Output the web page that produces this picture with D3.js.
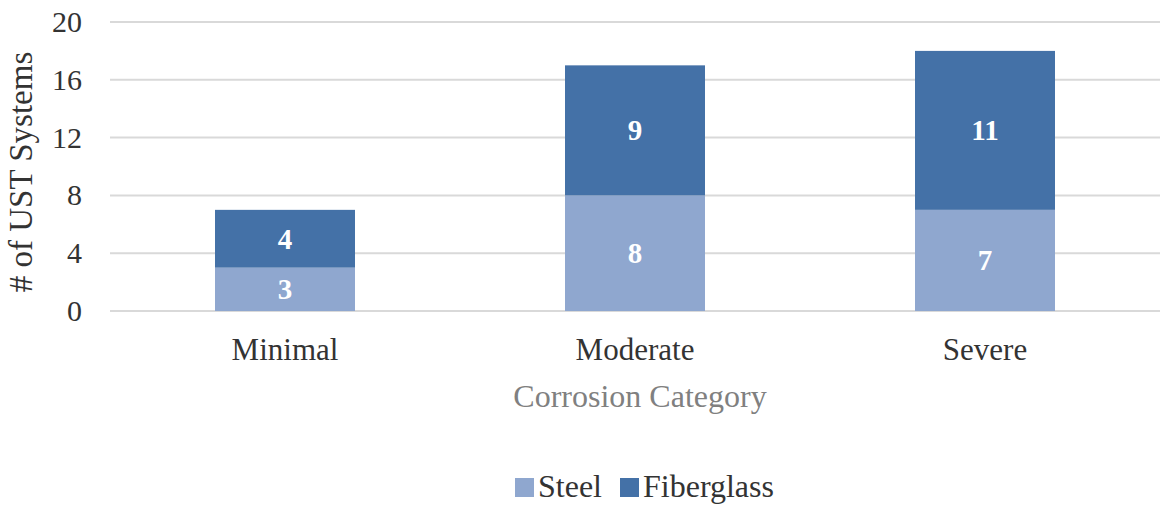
<!DOCTYPE html>
<html>
<head>
<meta charset="utf-8">
<script src="https://cdn.jsdelivr.net/npm/d3@7"></script>
<style>
  body { margin: 0; background: #fff; }
  text { font-family: "Liberation Serif", "Times New Roman", serif; }
</style>
</head>
<body>
<svg id="graph"></svg>
<script>
var categories = ["Minimal", "Moderate", "Severe"];
var seriesNames = ["Steel", "Fiberglass"];
var steel = [3, 8, 7];
var fiberglass = [4, 9, 11];
var yTicks = [0, 4, 8, 12, 16, 20];

var colors = {Steel: "#8fa7cf", Fiberglass: "#4471a7"};

var margin = {top: 22, left: 110, right: 5, bottom: 195},
	width = 1165 - margin.left - margin.right,
	height = 506 - margin.top - margin.bottom,
	graph = d3.select("#graph").attr("width", 1165).attr("height", 506),
	g = graph.append("g").attr("transform", "translate(" + margin.left + "," + margin.top + ")");

var x = d3.scaleBand().domain(categories).range([0, width]).paddingInner(0.6).paddingOuter(0.3),
	y = d3.scaleLinear().domain([0, 20]).range([height, 0]);

// table for stacking
var rows = categories.map(function(c, i) { return {cat: c, Steel: steel[i], Fiberglass: fiberglass[i]}; });
var stacked = d3.stack().keys(seriesNames)(rows);

// gridlines
g.append("g")
	.selectAll("line")
	.data(yTicks)
	.enter().append("line")
		.attr("x1", 0)
		.attr("x2", width)
		.attr("y1", function(d) { return y(d); })
		.attr("y2", function(d) { return y(d); })
		.attr("stroke", "#d9d9d9")
		.attr("stroke-width", 2);

// y tick labels
g.append("g")
	.selectAll("text")
	.data(yTicks)
	.enter().append("text")
		.attr("x", -28)
		.attr("y", function(d) { return y(d) + 10; })
		.attr("text-anchor", "end")
		.attr("font-size", 30)
		.attr("fill", "#333333")
		.text(function(d) { return d; });

g.append("text")
	.attr("transform", "rotate(-90)")
	.attr("x", -(172 - margin.top))
	.attr("y", 32 - margin.left)
	.attr("text-anchor", "middle")
	.attr("font-size", 33)
	.attr("fill", "#333333")
	.text("# of UST Systems");

// bars
var layer = g.selectAll(".layer")
	.data(stacked)
	.enter().append("g")
		.attr("class", "layer")
		.attr("fill", function(d) { return colors[d.key]; });

layer.selectAll("rect")
	.data(function(d) { return d; })
	.enter().append("rect")
		.attr("x", function(d) { return x(d.data.cat); })
		.attr("width", x.bandwidth())
		.attr("y", function(d) { return y(d[1]); })
		.attr("height", function(d) { return y(d[0]) - y(d[1]); });

layer.selectAll("text")
	.data(function(d) { return d; })
	.enter().append("text")
		.attr("x", function(d) { return x(d.data.cat) + x.bandwidth() / 2; })
		.attr("y", function(d) { return (y(d[0]) + y(d[1])) / 2 + 10; })
		.attr("text-anchor", "middle")
		.attr("font-size", 29)
		.attr("font-weight", "bold")
		.attr("fill", "#ffffff")
		.text(function(d) { return d[1] - d[0]; });

// category labels
g.append("g")
	.selectAll("text")
	.data(categories)
	.enter().append("text")
		.attr("x", function(d) { return x(d) + x.bandwidth() / 2; })
		.attr("y", 360 - margin.top)
		.attr("text-anchor", "middle")
		.attr("font-size", 31)
		.attr("fill", "#333333")
		.text(function(d) { return d; });

g.append("text")
	.attr("x", width / 2 + 5)
	.attr("y", 407 - margin.top)
	.attr("text-anchor", "middle")
	.attr("font-size", 32)
	.attr("fill", "#808080")
	.text("Corrosion Category");

// legend
var legend = graph.append("g").attr("transform", "translate(515, 497)");
var lx = [0, 105];
seriesNames.forEach(function(s, i) {
	legend.append("rect")
		.attr("x", lx[i])
		.attr("y", -19)
		.attr("width", 19)
		.attr("height", 19)
		.attr("fill", colors[s]);
	legend.append("text")
		.attr("x", lx[i] + 23)
		.attr("y", 0)
		.attr("font-size", 32)
		.attr("fill", "#333333")
		.text(s);
});
</script>
</body>
</html>
